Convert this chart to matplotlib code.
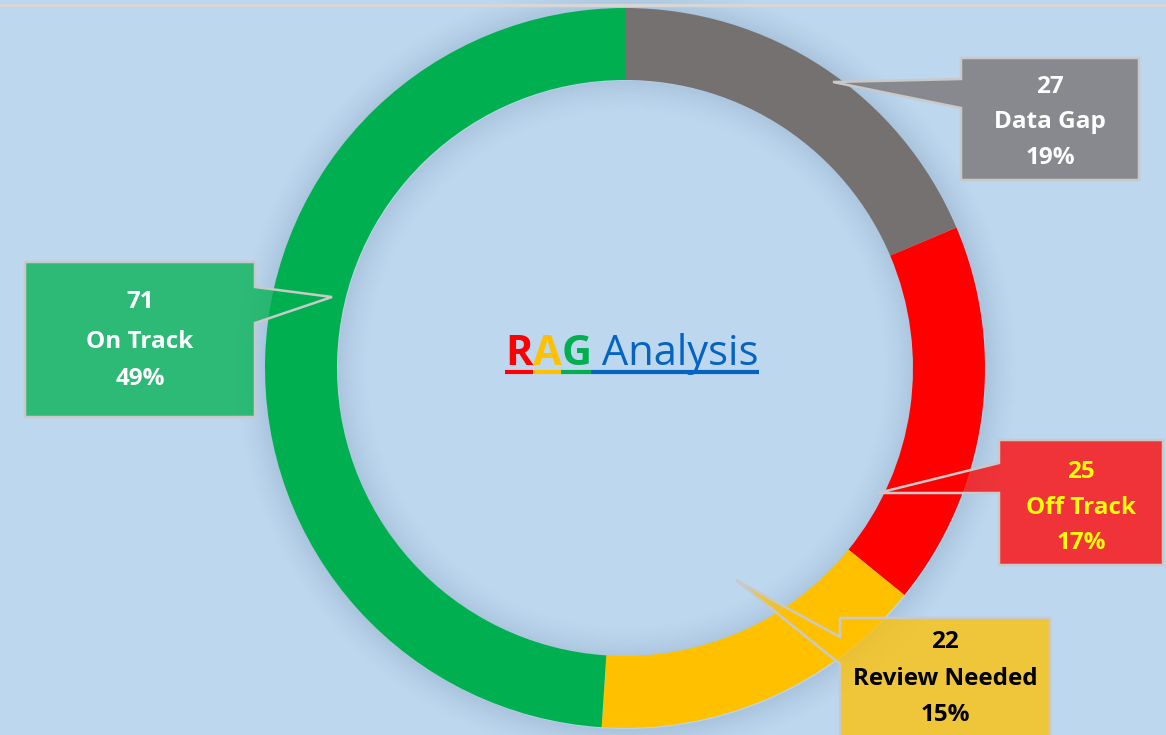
import matplotlib
matplotlib.use("Agg")

import matplotlib.pyplot as plt
from matplotlib.patches import Wedge, Polygon


# Data

labels = ["Data Gap", "Off Track", "Review Needed", "On Track"]
counts = [27, 25, 22, 71]
slice_colors = ["#767171", "#FF0000", "#FFC000", "#00B050"]
text_colors = ["white", "#FFFF00", "black", "white"]

title_parts = ["R", "A", "G", " Analysis"]
title_colors = ["#FF0000", "#FFC000", "#00B050", "#0563C1"]
title_weights = ["bold", "bold", "bold", "normal"]


# Layout (pixels, image coordinates: y grows downwards)

W, H = 1166, 735
CENTER = (625, 368)
R_OUT = 360
RING_W = 72
BG = "#BDD7EE"
FONT = "Open Sans"

# box (x0, y0, x1, y1), tip of pointer, side, pointer base on box edge
callouts = [
    ((961, 58, 1139, 180), (833, 82), "left", (79, 108)),
    ((999, 440, 1163, 565), (878, 493), "left", (463, 493)),
    ((840, 618, 1050, 745), (736, 580), "left", (637, 664)),
    ((25, 262, 255, 417), (332, 297), "right", (287, 323)),
]

# text line centres inside each box
line_rows = [
    [87, 122, 158],
    [472, 508, 543],
    [642, 679, 715],
    [302, 342, 379],
]


def flip(y):
    return H - y


def draw_shadow(ax):

    cx, cy = CENTER[0] + 1, flip(CENTER[1]) - 1
    r_in = R_OUT - RING_W

    # outer soft shadow
    for i in range(32):
        a = 0.11 * (1 - i / 32) ** 1.6
        ax.add_patch(Wedge((cx, cy), R_OUT + i + 1, 0, 360, width=1.2,
                           color="#2F4A70", alpha=a, lw=0, zorder=1))

    # inner soft shadow
    for i in range(32):
        a = 0.10 * (1 - i / 32) ** 1.6
        ax.add_patch(Wedge((cx, cy), r_in - i + 0.5, 0, 360, width=1.2,
                           color="#2F4A70", alpha=a, lw=0, zorder=1))


def callout_polygon(box, tip, side, base):

    x0, y0, x1, y1 = box
    b0, b1 = base

    if side == "left":
        pts = [(x0, y0), (x1, y0), (x1, y1), (x0, y1),
               (x0, b1), tip, (x0, b0)]
    else:
        pts = [(x0, y0), (x1, y0), (x1, b0), tip,
               (x1, b1), (x1, y1), (x0, y1)]

    return [(x, flip(y)) for x, y in pts]


fig = plt.figure(figsize=(W / 100, H / 100), dpi=100)
fig.patch.set_facecolor(BG)

ax = fig.add_axes([0, 0, 1, 1])
ax.set_facecolor(BG)

draw_shadow(ax)

# Donut ring
wedges, _ = ax.pie(
    counts,
    colors=slice_colors,
    startangle=90,
    counterclock=False,
    radius=R_OUT,
    center=(CENTER[0], flip(CENTER[1])),
    wedgeprops=dict(width=RING_W, edgecolor="none", linewidth=0),
    frame=True
)
for w in wedges:
    w.set_zorder(2)

# Callouts
total = sum(counts)

for i, (box, tip, side, base) in enumerate(callouts):

    pts = callout_polygon(box, tip, side, base)

    ax.add_patch(Polygon(pts, closed=True, facecolor=slice_colors[i],
                         alpha=0.76, edgecolor="none", zorder=3))
    ax.add_patch(Polygon(pts, closed=True, facecolor="none",
                         edgecolor="#C9C9C9", linewidth=1.8, zorder=4))

    pct = round(100 * counts[i] / total)
    bx = (box[0] + box[2]) / 2

    for text, ly in zip([str(counts[i]), labels[i], f"{pct}%"], line_rows[i]):
        ax.text(bx, flip(ly), text, ha="center", va="center",
                fontsize=17.5, fontweight="bold", family=FONT,
                color=text_colors[i], zorder=5)

# Top border line
ax.plot([0, W], [flip(5), flip(5)], color="#D6D6D6", lw=2.5, zorder=6)

ax.set_xlim(0, W)
ax.set_ylim(0, H)
ax.axis("off")

# Title with per-letter colours and underline
fig.canvas.draw()
renderer = fig.canvas.get_renderer()

pieces = []
for part, col, wt in zip(title_parts, title_colors, title_weights):
    t = ax.text(0, flip(365), part, ha="left", va="baseline",
                fontsize=30, fontweight=wt, family=FONT,
                color=col, zorder=6)
    pieces.append(t)

widths = [t.get_window_extent(renderer).width for t in pieces]
x = 632 - sum(widths) / 2

for t, wdt, col in zip(pieces, widths, title_colors):
    t.set_x(x)
    ax.plot([x, x + wdt], [flip(372), flip(372)], color=col,
            lw=3, solid_capstyle="butt", zorder=6)
    x += wdt

fig.savefig("out.png", dpi=100, facecolor=BG)
